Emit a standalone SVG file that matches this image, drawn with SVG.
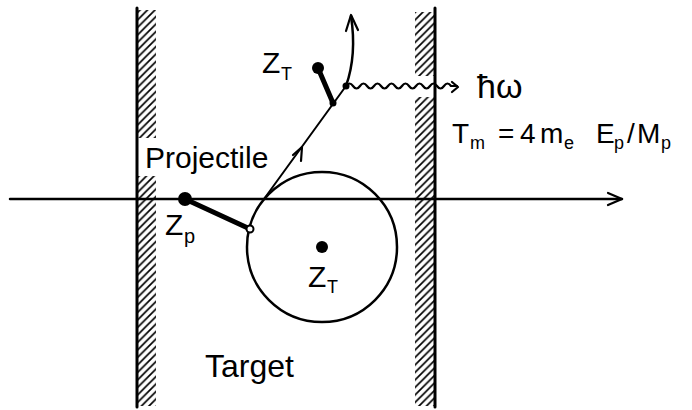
<svg xmlns="http://www.w3.org/2000/svg" width="692" height="410" viewBox="0 0 692 410">
<style>
.ln{stroke:#000;fill:none;stroke-linecap:round;stroke-linejoin:round}
.t{font-family:"Liberation Sans",Arial,sans-serif;fill:#000}
.ah{stroke:#000;fill:none;stroke-width:2.2;stroke-linecap:round;stroke-linejoin:round}
</style>
<defs>
<pattern id="hatch" patternUnits="userSpaceOnUse" width="7.5" height="7.5">
<path d="M-1,1 L1,-1 M0,7.5 L7.5,0 M6.5,8.5 L8.5,6.5" stroke="#000" stroke-width="1.7"/>
</pattern>
</defs>
<rect width="692" height="410" fill="#fff"/>

<g id="wall-left">
<rect x="138" y="10" width="18" height="128" fill="url(#hatch)"/>
<rect x="138" y="176" width="18" height="230" fill="url(#hatch)"/>
<line class="ln" x1="137" y1="8" x2="137" y2="407" stroke-width="3"/>
</g>
<g id="wall-right">
<rect x="415" y="12" width="19" height="64" fill="url(#hatch)"/>
<rect x="415" y="97" width="19" height="309" fill="url(#hatch)"/>
<line class="ln" x1="435" y1="8" x2="435" y2="407" stroke-width="3"/>
</g>

<g id="connectors">
<line class="ln" x1="10" y1="199" x2="622" y2="199" stroke-width="2.5"/>
<path class="ah" d="M608,193 L622,199 L608,205"/>
<line class="ln" x1="264" y1="199" x2="346" y2="86" stroke-width="2"/>
<path class="ah" d="M293,155 L302,147 L301,161"/>
<path class="ln" stroke-width="2.2" d="M346,86 q3.5,-5 7,0 t7,0 t7,0 t7,0 t7,0 t7,0 t7,0 t7,0 t7,0 t7,0 t7,0 t7,0 t7,0 t7,0 t7,0 l6,0"/>
<path class="ah" d="M452,82 L458,87 L452,92"/>
<path class="ln" stroke-width="2.5" d="M346,86 Q357,55 351,16"/>
<path class="ah" d="M346,31 L351,15 L358,30"/>
</g>

<g id="target-atom">
<circle class="ln" cx="322" cy="247" r="75" stroke-width="2.5"/>
<circle cx="322" cy="247" r="6" fill="#000"/>
<text class="t" x="308" y="287" font-size="30">Z</text>
<text class="t" x="327" y="293" font-size="18">T</text>
</g>

<g id="projectile">
<line class="ln" x1="185" y1="199" x2="250" y2="229" stroke-width="5"/>
<circle cx="185" cy="199" r="7" fill="#000"/>
<circle cx="250" cy="229" r="3.5" fill="#fff" stroke="#000" stroke-width="2"/>
<text class="t" x="165" y="235" font-size="30">Z</text>
<text class="t" x="184" y="243" font-size="20">p</text>
</g>

<g id="recoil">
<line class="ln" x1="318" y1="68" x2="333" y2="103" stroke-width="5"/>
<circle cx="318" cy="68" r="6" fill="#000"/>
<circle cx="333" cy="103" r="3.5" fill="#000"/>
<circle cx="346" cy="86" r="3.5" fill="#000"/>
<text class="t" x="262" y="73" font-size="30">Z</text>
<text class="t" x="281" y="80" font-size="18">T</text>
</g>

<g id="labels">
<text class="t" x="145" y="168" font-size="30">Projectile</text>
<text class="t" x="205" y="377" font-size="32">Target</text>
<text class="t" x="477" y="98" font-size="34">ħω</text>
<text class="t" font-size="28" y="143"><tspan x="452">T</tspan><tspan x="470" y="149" font-size="18">m</tspan><tspan x="498" y="143">=</tspan><tspan x="520">4</tspan><tspan x="540">m</tspan><tspan x="564" y="149" font-size="18">e</tspan><tspan x="596" y="143">E</tspan><tspan x="614" y="149" font-size="18">p</tspan><tspan x="627" y="143">/</tspan><tspan x="637">M</tspan><tspan x="661" y="149" font-size="18">p</tspan></text>
</g>
</svg>
